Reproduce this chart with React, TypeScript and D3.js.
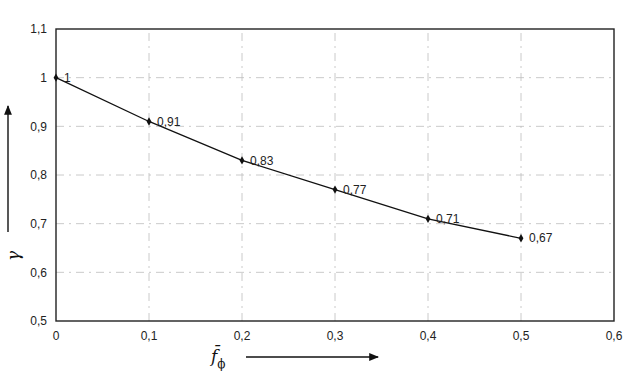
import React from "react";
import * as d3 from "d3";

const xValues = [0, 0.1, 0.2, 0.3, 0.4, 0.5];
const yValues = [1, 0.91, 0.83, 0.77, 0.71, 0.67];
const pointLabels = ["1", "0,91", "0,83", "0,77", "0,71", "0,67"];
const xTicks = [0, 0.1, 0.2, 0.3, 0.4, 0.5, 0.6];
const yTicks = [0.5, 0.6, 0.7, 0.8, 0.9, 1, 1.1];

const W = 629;
const H = 376;
const margin = { left: 56, right: 15, top: 29, bottom: 55 };

const loc = d3.formatLocale({ decimal: ",", thousands: ".", grouping: [3], currency: ["", ""] });
const fmt = (v: number) => loc.format("~g")(+v.toFixed(2));

export default function App() {
  const x = d3.scaleLinear().domain([0, 0.6]).range([margin.left, W - margin.right]);
  const y = d3.scaleLinear().domain([0.5, 1.1]).range([H - margin.bottom, margin.top]);
  const data = xValues.map((v, i) => [v, yValues[i]] as [number, number]);
  const line = d3.line<[number, number]>().x((d) => x(d[0])).y((d) => y(d[1]));
  const sym = d3.symbol().type(d3.symbolDiamond).size(20)();
  const font = "'Liberation Sans', Arial, sans-serif";
  const x0 = x(0), x1 = x(0.6), y0 = y(0.5), y1 = y(1.1);

  return (
    <svg width={W} height={H} style={{ position: "absolute", left: 0, top: 0, background: "#fff" }} fontFamily={font}>
      <defs>
        <marker id="ah" viewBox="0 0 10 10" refX="9" refY="5" markerWidth="7" markerHeight="7" orient="auto">
          <path d="M0,1 L10,5 L0,9 Z" fill="#111" />
        </marker>
      </defs>
      {/* grid */}
      {yTicks.slice(1, -1).map((t) => (
        <line key={"gy" + t} x1={x0} x2={x1} y1={y(t)} y2={y(t)} stroke="#bdbdbd" strokeWidth={0.8} strokeDasharray="8,5,2,5" />
      ))}
      {xTicks.slice(1, -1).map((t) => (
        <line key={"gx" + t} x1={x(t)} x2={x(t)} y1={y0} y2={y1} stroke="#bdbdbd" strokeWidth={0.8} strokeDasharray="8,5,2,5" />
      ))}
      {/* border */}
      <rect x={x0} y={y1} width={x1 - x0} height={y0 - y1} fill="none" stroke="#222" strokeWidth={1.4} />
      {/* y tick labels */}
      {yTicks.map((t) => (
        <text key={"ty" + t} x={x0 - 9} y={y(t)} dy="0.35em" textAnchor="end" fontSize={12} fill="#222">
          {fmt(t)}
        </text>
      ))}
      {/* x tick labels */}
      {xTicks.map((t) => (
        <text key={"tx" + t} x={x(t)} y={y0 + 19} textAnchor="middle" fontSize={12} fill="#222">
          {fmt(t)}
        </text>
      ))}
      {/* line */}
      <path d={line(data) || ""} fill="none" stroke="#111" strokeWidth={1.3} />
      {data.map((d, i) => (
        <g key={"p" + i}>
          <path d={sym || ""} transform={`translate(${x(d[0])},${y(d[1])})`} fill="#111" />
          <text x={x(d[0]) + 8} y={y(d[1])} dy="0.35em" fontSize={12} fill="#222">
            {pointLabels[i]}
          </text>
        </g>
      ))}
      {/* y axis label */}
      <line x1={8} x2={8} y1={232} y2={106} stroke="#111" strokeWidth={1.4} markerEnd="url(#ah)" />
      <text transform="translate(19,256) rotate(-90)" textAnchor="middle" fontSize={17} fontStyle="italic" fontFamily="'DejaVu Serif', serif" fill="#111">
        γ
      </text>
      {/* x axis label */}
      <text x={211} y={362} fontSize={17} fontStyle="italic" fontFamily="'DejaVu Serif', serif" fill="#111">
        <tspan>f̄</tspan>
        <tspan dy={6} fontSize={12} fontStyle="normal">ϕ</tspan>
      </text>
      <line x1={246} x2={378} y1={357} y2={357} stroke="#111" strokeWidth={1.4} markerEnd="url(#ah)" />
    </svg>
  );
}
